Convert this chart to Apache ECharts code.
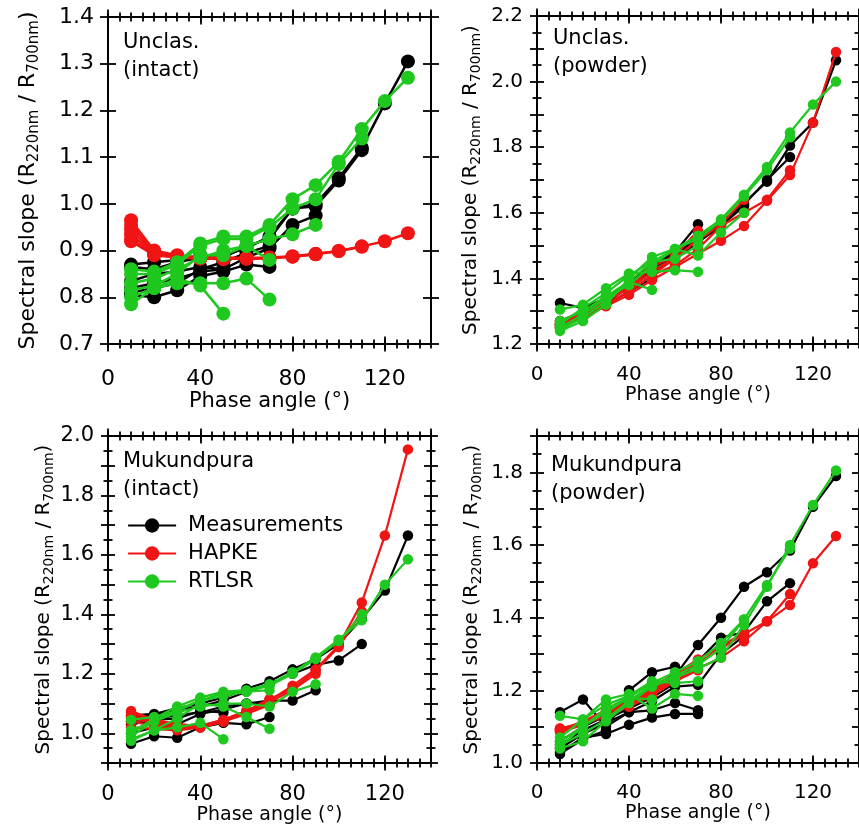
<!DOCTYPE html>
<html><head><meta charset="utf-8">
<script src="https://cdn.jsdelivr.net/npm/echarts@6/dist/echarts.min.js"></script>
<style>html,body{margin:0;padding:0;background:#fff}#c{width:859px;height:829px}</style>
</head><body><div id="c"></div>
<script>
// ---------- data ----------
const phases = [10,20,30,40,50,60,70,80,90,100,110,120,130];
const xTickLabels = [0, 40, 80, 120];
const seriesNames = ['Measurements', 'HAPKE', 'RTLSR'];
const panelLabels = ['Unclas.\n(intact)', 'Unclas.\n(powder)', 'Mukundpura\n(intact)', 'Mukundpura\n(powder)'];
const yRanges = [[0.7, 1.4], [1.2, 2.2], [0.9, 2.0], [1.0, 1.9]];

// Panel 1: Unclas. (intact)
const p1Meas = [
  [0.870,0.875,0.880,0.890,0.890,0.905,0.930,0.990,1.000,1.055,1.120,1.215,1.305],
  [0.865,0.860,0.875,0.885,0.885,0.910,0.925,0.990,0.995,1.050,1.115],
  [0.820,0.830,0.840,0.855,0.860,0.885,0.905,0.955,0.975],
  [0.805,0.800,0.815,0.845,0.855,0.870,0.865],
  [0.810,0.820,0.830,0.860,0.875,0.895,0.910],
  [0.835,0.850,0.855,0.865,0.860]
];
const p1Hapke = [
  [0.965,0.900,0.890,0.885,0.885,0.884,0.885,0.888,0.893,0.899,0.909,0.920,0.937],
  [0.955,0.897,0.888,0.884,0.884,0.883,0.884,0.887,0.892,0.899,0.908],
  [0.945,0.895,0.887,0.884,0.883,0.883,0.884,0.887,0.892],
  [0.935,0.893,0.886,0.884,0.883,0.883,0.884],
  [0.925,0.892,0.885,0.883,0.882,0.883,0.884],
  [0.920,0.890,0.885,0.883,0.882]
];
const p1Rtlsr = [
  [0.860,0.855,0.875,0.915,0.930,0.930,0.955,1.010,1.040,1.090,1.160,1.220,1.270],
  [0.850,0.850,0.870,0.910,0.925,0.925,0.950,0.990,1.010,1.085,1.140],
  [0.830,0.840,0.860,0.885,0.900,0.910,0.925,0.935,0.955],
  [0.800,0.820,0.830,0.830,0.830,0.840,0.795],
  [0.815,0.825,0.850,0.890,0.890,0.910,0.880],
  [0.785,0.820,0.840,0.825,0.765]
];

// Panel 2: Unclas. (powder)
const p2Meas = [
  [1.260,1.290,1.330,1.380,1.440,1.475,1.525,1.570,1.630,1.695,1.805,1.875,2.065],
  [1.255,1.285,1.325,1.375,1.430,1.470,1.520,1.565,1.625,1.700,1.770],
  [1.325,1.310,1.340,1.390,1.440,1.480,1.565],
  [1.270,1.300,1.335,1.370,1.420,1.460,1.510,1.560,1.620],
  [1.260,1.290,1.330,1.375,1.420,1.465,1.540],
  [1.250,1.280,1.320,1.360,1.400]
];
const p2Hapke = [
  [1.255,1.280,1.315,1.350,1.395,1.435,1.475,1.515,1.560,1.637,1.715,1.875,2.090],
  [1.260,1.285,1.320,1.360,1.410,1.440,1.490,1.560,1.600,1.640,1.730],
  [1.265,1.290,1.330,1.370,1.420,1.465,1.515,1.565,1.640],
  [1.270,1.290,1.335,1.370,1.435,1.470,1.545],
  [1.250,1.285,1.320,1.360,1.410,1.460,1.520],
  [1.260,1.285,1.340,1.370,1.445]
];
const p2Rtlsr = [
  [1.250,1.290,1.340,1.380,1.440,1.490,1.530,1.580,1.655,1.740,1.845,1.930,2.000],
  [1.245,1.280,1.330,1.390,1.450,1.490,1.520,1.575,1.650,1.730,1.830],
  [1.240,1.270,1.320,1.400,1.465,1.490,1.470,1.540,1.600],
  [1.305,1.320,1.370,1.415,1.420,1.425,1.420],
  [1.260,1.310,1.355,1.410,1.450,1.460,1.500],
  [1.270,1.300,1.345,1.390,1.365]
];

// Panel 3: Mukundpura (intact)
const p3Meas = [
  [1.060,1.065,1.085,1.100,1.120,1.150,1.175,1.215,1.250,1.300,1.385,1.480,1.665],
  [1.055,1.060,1.080,1.090,1.110,1.140,1.165,1.200,1.230,1.245,1.300],
  [1.040,1.050,1.060,1.070,1.090,1.100,1.110,1.110,1.145],
  [0.965,0.990,0.985,1.020,1.035,1.030,1.055],
  [1.000,1.020,1.030,1.065,1.080,1.100,1.100],
  [1.030,1.045,1.050,1.075,1.070]
];
const p3Hapke = [
  [1.075,1.045,1.030,1.025,1.045,1.075,1.110,1.160,1.215,1.295,1.440,1.665,1.955],
  [1.070,1.045,1.030,1.025,1.045,1.075,1.115,1.150,1.210,1.290,1.410],
  [1.060,1.040,1.025,1.022,1.040,1.070,1.105,1.145,1.200],
  [1.050,1.035,1.020,1.020,1.040,1.070,1.100],
  [1.040,1.025,1.015,1.020,1.040,1.065,1.095],
  [1.020,1.015,1.010,1.020,1.040]
];
const p3Rtlsr = [
  [1.000,1.050,1.090,1.120,1.140,1.145,1.165,1.205,1.255,1.315,1.380,1.500,1.585],
  [0.990,1.040,1.080,1.110,1.135,1.140,1.160,1.200,1.250,1.310,1.400],
  [1.010,1.040,1.070,1.090,1.100,1.100,1.090,1.140,1.165],
  [0.980,1.010,1.050,1.100,1.090,1.055,1.015],
  [1.045,1.055,1.075,1.110,1.125,1.140,1.145],
  [0.975,1.010,1.020,1.035,0.980]
];

// Panel 4: Mukundpura (powder)
const p4Meas = [
  [1.060,1.100,1.130,1.170,1.200,1.240,1.325,1.400,1.485,1.525,1.585,1.705,1.790],
  [1.050,1.090,1.120,1.150,1.180,1.220,1.280,1.345,1.360,1.445,1.495],
  [1.040,1.080,1.110,1.140,1.170,1.210,1.215,1.300,1.350],
  [1.030,1.070,1.080,1.105,1.125,1.135,1.135],
  [1.140,1.175,1.100,1.140,1.145,1.165,1.145],
  [1.025,1.065,1.090,1.200,1.250,1.265]
];
const p4Hapke = [
  [1.095,1.110,1.135,1.160,1.190,1.230,1.260,1.290,1.335,1.390,1.435,1.550,1.625],
  [1.090,1.110,1.140,1.165,1.200,1.240,1.275,1.315,1.355,1.390,1.465],
  [1.090,1.115,1.145,1.170,1.210,1.245,1.285,1.320,1.360],
  [1.095,1.110,1.140,1.160,1.195,1.235,1.270],
  [1.085,1.105,1.130,1.155,1.185,1.225,1.255],
  [1.090,1.110,1.135,1.165,1.200]
];
const p4Rtlsr = [
  [1.040,1.060,1.115,1.165,1.210,1.235,1.260,1.290,1.380,1.485,1.600,1.710,1.805],
  [1.050,1.080,1.120,1.170,1.215,1.240,1.270,1.315,1.395,1.490,1.590],
  [1.060,1.100,1.140,1.180,1.220,1.250,1.280,1.330,1.395],
  [1.130,1.120,1.175,1.190,1.150,1.190,1.185],
  [1.070,1.120,1.160,1.185,1.225,1.220,1.225],
  [1.045,1.100,1.150,1.180,1.175]
];

const panelData = [
  [p1Meas, p1Hapke, p1Rtlsr],
  [p2Meas, p2Hapke, p2Rtlsr],
  [p3Meas, p3Hapke, p3Rtlsr],
  [p4Meas, p4Hapke, p4Rtlsr]
];

// ---------- layout / style ----------
const FONT = 'DejaVu Sans';
const colors = ['#000000', '#f01414', '#1ec81e'];
const drawOrder = [0, 2, 1]; // black, green, red on top
const layout = [
  {rect:{left:108, top:17, width:323, height:327}, fs:22, nameFs:21, yNameFs:22, subFs:15, sym:14, lw:2.5, minor:false, allLabels:true, xMargin:24, xGap:44, yGap:80, lab:[118,24]},
  {rect:{left:537, top:16, width:322, height:328}, fs:20, nameFs:19, yNameFs:20, subFs:14, sym:10.5, lw:2.2, minor:true, allLabels:false, xMargin:21, xGap:42, yGap:66, lab:[548,20]},
  {rect:{left:108, top:436, width:323, height:327}, fs:21, nameFs:19, yNameFs:20, subFs:14, sym:10.5, lw:2.2, minor:true, allLabels:false, xMargin:21, xGap:40, yGap:60, lab:[118,443]},
  {rect:{left:537, top:436, width:322, height:327}, fs:20, nameFs:19, yNameFs:20, subFs:14, sym:10.5, lw:2.2, minor:true, allLabels:false, xMargin:20, xGap:40, yGap:65, lab:[546,447]}
];

const grids = [], xAxes = [], yAxes = [], series = [], titles = [];
const axisLineStyle = {color:'#000', width:2};

layout.forEach((L, p) => {
  grids.push(Object.assign({containLabel:false}, L.rect));
  const [ymin, ymax] = yRanges[p];
  let mainX = -1, mainY = -1;
  ['bottom', 'top'].forEach(pos => {
    [[40, 7.5], [5, 4.5]].forEach(([iv, len], k) => {
      [false, true].forEach(inside => {
        const isMain = pos === 'bottom' && iv === 40 && !inside;
        const ax = {
          type:'value', gridIndex:p, position:pos, min:0, max:140, interval:iv,
          axisLine:{show: k === 0 && !inside, onZero:false, lineStyle:axisLineStyle},
          axisTick:{show:true, inside:inside, length:len, lineStyle:{color:'#000', width:1.8}},
          splitLine:{show:false},
          axisLabel:{show:isMain, margin:L.xMargin, showMaxLabel:false, color:'#000', fontFamily:FONT, fontSize:L.fs,
            formatter: v => xTickLabels.includes(v) ? String(v) : ''}
        };
        if (isMain) {
          mainX = xAxes.length;
          ax.name = 'Phase angle (°)';
          ax.nameLocation = 'middle';
          ax.nameGap = L.xGap;
          ax.nameTextStyle = {color:'#000', fontFamily:FONT, fontSize:L.nameFs};
        }
        xAxes.push(ax);
      });
    });
  });
  ['left', 'right'].forEach(pos => {
    [false, true].forEach(inside => {
      const isMain = pos === 'left' && !inside;
      const ax = {
        type:'value', gridIndex:p, position:pos, min:ymin, max:ymax, interval:0.1,
        axisLine:{show:!inside, onZero:false, lineStyle:axisLineStyle},
        axisTick:{show:true, inside:inside, length:L.minor ? 7 : 8, lineStyle:{color:'#000', width:1.8}},
        minorTick:{show:L.minor, splitNumber:2, length:4.5, lineStyle:{color:'#000', width:1.8}},
        splitLine:{show:false},
        axisLabel:{show:isMain, margin:14, color:'#000', fontFamily:FONT, fontSize:L.fs,
          formatter: v => (L.allLabels || Math.round(v * 10) % 2 === 0) ? v.toFixed(1) : ''}
      };
      if (isMain) {
        mainY = yAxes.length;
        ax.name = 'Spectral slope (R{s|220nm} / R{s|700nm})';
        ax.nameLocation = 'middle';
        ax.nameRotate = 90;
        ax.nameGap = L.yGap;
        ax.nameTextStyle = {color:'#000', fontFamily:FONT, fontSize:L.yNameFs, verticalAlign:'middle',
          rich:{s:{fontSize:L.subFs, fontFamily:FONT, color:'#000', verticalAlign:'bottom', padding:[L.yNameFs * 0.55, 0, 0, 0]}}};
      }
      yAxes.push(ax);
    });
  });
  drawOrder.forEach(t => {
    panelData[p][t].forEach(vals => {
      series.push({
        type:'line', name:seriesNames[t], xAxisIndex:mainX, yAxisIndex:mainY,
        data: vals.map((v, i) => [phases[i], v]),
        symbol:'circle', symbolSize:L.sym, showSymbol:true,
        lineStyle:{color:colors[t], width:L.lw},
        itemStyle:{color:colors[t]},
        animation:false, z: 2 + t
      });
    });
  });
  titles.push({text:panelLabels[p], left:L.lab[0], top:L.lab[1],
    textStyle:{color:'#000', fontFamily:FONT, fontSize:21, fontWeight:'normal', lineHeight:28}});
});

const chart = echarts.init(document.getElementById('c'), null, {renderer:'canvas'});
chart.setOption({
  backgroundColor:'#fff',
  animation:false,
  textStyle:{fontFamily:FONT},
  title: titles,
  grid: grids,
  xAxis: xAxes,
  yAxis: yAxes,
  legend:{
    data: seriesNames, orient:'vertical', left:122, top:510,
    itemWidth:48, itemHeight:18, itemGap:7,
    lineStyle:{width:2.2},
    textStyle:{color:'#000', fontFamily:FONT, fontSize:21, padding:[0,0,0,7]}
  },
  series: series
});
</script>
</body></html>
